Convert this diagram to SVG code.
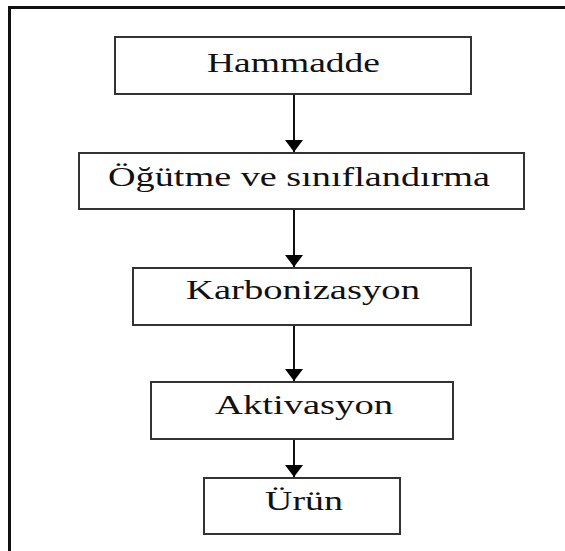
<svg xmlns="http://www.w3.org/2000/svg" width="565" height="551" viewBox="0 0 565 551">
<style>
.box{fill:#fff;stroke:#333;stroke-width:2}
.lbl{font-family:"Liberation Serif","Times New Roman",serif;font-size:27px;fill:#111;text-anchor:middle}
.conn{stroke:#111;stroke-width:2;fill:none}
</style>
<defs>
<marker id="ah" markerUnits="userSpaceOnUse" markerWidth="13" markerHeight="19" refX="12" refY="9" orient="auto">
<path d="M0,0 L12,9 L0,18 Z" fill="#000"/>
</marker>
</defs>
<rect width="565" height="551" fill="#fff"/>
<g id="frame">
<line x1="8" y1="7.5" x2="565" y2="7.5" stroke="#111" stroke-width="3"/>
<line x1="9.5" y1="6" x2="9.5" y2="551" stroke="#111" stroke-width="3"/>
</g>
<g id="connectors">
<line class="conn" x1="294" y1="95" x2="294" y2="152" marker-end="url(#ah)"/>
<line class="conn" x1="294" y1="210" x2="294" y2="267" marker-end="url(#ah)"/>
<line class="conn" x1="294" y1="326" x2="294" y2="381" marker-end="url(#ah)"/>
<line class="conn" x1="294" y1="440" x2="294" y2="477" marker-end="url(#ah)"/>
</g>
<g id="n1">
<rect class="box" x="115" y="37" width="356" height="57"/>
<text class="lbl" transform="translate(293.5,72) scale(1.4,1)" textLength="123.6" lengthAdjust="spacingAndGlyphs">Hammadde</text>
</g>
<g id="n2">
<rect class="box" x="79" y="153" width="445" height="56"/>
<text class="lbl" transform="translate(299,186) scale(1.4,1)" textLength="272.9" lengthAdjust="spacingAndGlyphs">Öğütme ve sınıflandırma</text>
</g>
<g id="n3">
<rect class="box" x="133" y="268" width="338" height="57"/>
<text class="lbl" transform="translate(303,299) scale(1.4,1)" textLength="167.1" lengthAdjust="spacingAndGlyphs">Karbonizasyon</text>
</g>
<g id="n4">
<rect class="box" x="151" y="382" width="302" height="57"/>
<text class="lbl" transform="translate(304,414) scale(1.4,1)" textLength="127.1" lengthAdjust="spacingAndGlyphs">Aktivasyon</text>
</g>
<g id="n5">
<rect class="box" x="204" y="478" width="196" height="56"/>
<text class="lbl" transform="translate(304,510) scale(1.4,1)" textLength="55.7" lengthAdjust="spacingAndGlyphs">Ürün</text>
</g>
</svg>
